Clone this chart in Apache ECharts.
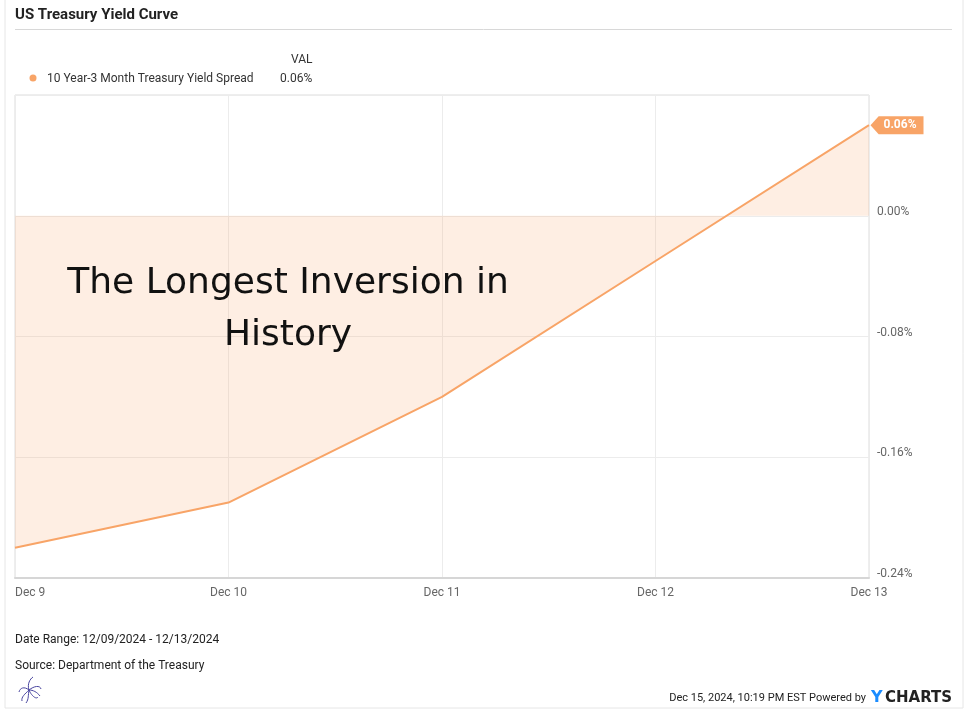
<!DOCTYPE html>
<html><head><meta charset="utf-8">
<script src="https://cdn.jsdelivr.net/npm/echarts@6/dist/echarts.min.js"></script>
<style>html,body{margin:0;padding:0;background:#fff}#c{width:965px;height:712px}</style>
</head><body><div id="c"></div>
<script>
const categories = ['Dec 9', 'Dec 10', 'Dec 11', 'Dec 12', 'Dec 13'];
const spreadValues = [-0.22, -0.19, -0.12, -0.03, 0.06];
const yTicks = [-0.24, -0.16, -0.08, 0.00, 0.08];
const seriesName = '10 Year-3 Month Treasury Yield Spread';
const lastValueText = '0.06%';

const LINE = '#f8a467';
const chart = echarts.init(document.getElementById('c'));
const font = 'Roboto';
const P = '#4b47a0';
function bz(x1,y1,cx1,cy1,cx2,cy2,x2,y2){
  return { type: 'bezierCurve', shape: { x1:x1, y1:y1, cpx1:cx1, cpy1:cy1, cpx2:cx2, cpy2:cy2, x2:x2, y2:y2 }, style: { fill: 'none', stroke: P, lineWidth: 1 } };
}
chart.setOption({
  animation: false,
  backgroundColor: '#fff',
  textStyle: { fontFamily: font },
  grid: { left: 15, right: 96, top: 95, bottom: 134, show: true, borderColor: '#dcdcdc', borderWidth: 1, containLabel: false, outerBoundsMode: 'none' },
  xAxis: {
    type: 'category', data: categories, boundaryGap: false,
    axisLine: { show: true, onZero: false, lineStyle: { color: '#d6d6d6', width: 2 } },
    axisTick: { show: false },
    splitLine: { show: true, lineStyle: { color: '#ececec' } },
    axisLabel: { color: '#666', fontSize: 12, margin: 9, fontFamily: font, alignMinLabel: 'left' }
  },
  yAxis: {
    type: 'value', position: 'right', min: yTicks[0], max: yTicks[yTicks.length - 1], interval: 0.08,
    axisLine: { show: false }, axisTick: { show: false },
    splitLine: { show: true, lineStyle: { color: '#ececec' } },
    axisLabel: {
      color: '#666', fontSize: 12, margin: 8, fontFamily: font, verticalAlign: 'bottom', padding: [0, 0, -2, 0],
      formatter: function (v) { if (v > 0.07) return ''; return v.toFixed(2) + '%'; }
    }
  },
  series: [{
    name: seriesName, type: 'line', data: spreadValues, symbol: 'none',
    lineStyle: { color: LINE, width: 2 },
    areaStyle: { color: 'rgba(250,160,100,0.26)', origin: 0 },
    markPoint: {
      silent: true,
      data: [{ coord: [categories.length - 1, spreadValues[spreadValues.length - 1]] }],
      symbol: 'path://M0,9 L8,0 L52,0 L52,18 L8,18 Z',
      symbolSize: [53, 18], symbolOffset: [28, 0], symbolKeepAspect: false,
      itemStyle: { color: LINE },
      label: { show: true, formatter: lastValueText, color: '#fff', fontWeight: 'bold', fontSize: 12, fontFamily: font, offset: [3, 0] }
    }
  }],
  graphic: [
    { type: 'rect', shape: { x: 5, y: -2, width: 958, height: 710 }, style: { fill: 'none', stroke: '#e6e6e6', lineWidth: 1 }, silent: true, z: -1 },
    { type: 'text', left: 15, top: 8, style: { text: 'US Treasury Yield Curve', font: 'bold 15px Roboto', fill: '#222' } },
    { type: 'line', shape: { x1: 15, y1: 29.5, x2: 952, y2: 29.5 }, style: { stroke: '#d8d8d8', lineWidth: 1 } },
    { type: 'text', left: 291, top: 54, style: { text: 'VAL', font: '12px Roboto', fill: '#333' } },
    { type: 'circle', shape: { cx: 33, cy: 78, r: 3.5 }, style: { fill: LINE } },
    { type: 'text', left: 47, top: 73, style: { text: seriesName, font: '12px Roboto', fill: '#333' } },
    { type: 'text', left: 280, top: 73, style: { text: lastValueText, font: '12px Roboto', fill: '#333' } },
    { type: 'text', left: 15, top: 634, style: { text: 'Date Range: 12/09/2024 - 12/13/2024', font: '12px Roboto', fill: '#222' } },
    { type: 'text', left: 15, top: 660, style: { text: 'Source: Department of the Treasury', font: '12px Roboto', fill: '#222' } },
    bz(29,690, 27,684, 30,679, 33,677),
    bz(29,690, 24,686, 20,688, 19,692),
    bz(29,690, 34,686, 40,685, 41,689),
    bz(29,690, 25,694, 21,697, 22,701),
    bz(29,690, 31,695, 36,700, 38,697),
    bz(29,690, 28,695, 29,699, 26,703),
    bz(29,690, 33,690, 37,692, 40,696),
    { type: 'text', x: 866, y: 698, style: { text: 'Dec 15, 2024, 10:19 PM EST Powered by', font: '11px Roboto', fill: '#222', textAlign: 'right', textVerticalAlign: 'middle', align: 'right', verticalAlign: 'middle' } },
    { type: 'text', x: 871, y: 698, style: { text: 'Y', font: 'bold 16px "DejaVu Sans"', fill: '#1a8cff', textVerticalAlign: 'middle', verticalAlign: 'middle' } },
    { type: 'text', x: 885, y: 698, style: { text: 'CHARTS', font: 'bold 15px "DejaVu Sans"', fill: '#222', textVerticalAlign: 'middle', verticalAlign: 'middle' } },
    { type: 'text', x: 288, y: 284, z: 100, style: { text: 'The Longest Inversion in', font: '36px "DejaVu Sans"', fill: '#111', textAlign: 'center', align: 'center', textVerticalAlign: 'middle', verticalAlign: 'middle' } },
    { type: 'text', x: 288, y: 336, z: 100, style: { text: 'History', font: '36px "DejaVu Sans"', fill: '#111', textAlign: 'center', align: 'center', textVerticalAlign: 'middle', verticalAlign: 'middle' } }
  ]
});
</script></body></html>
